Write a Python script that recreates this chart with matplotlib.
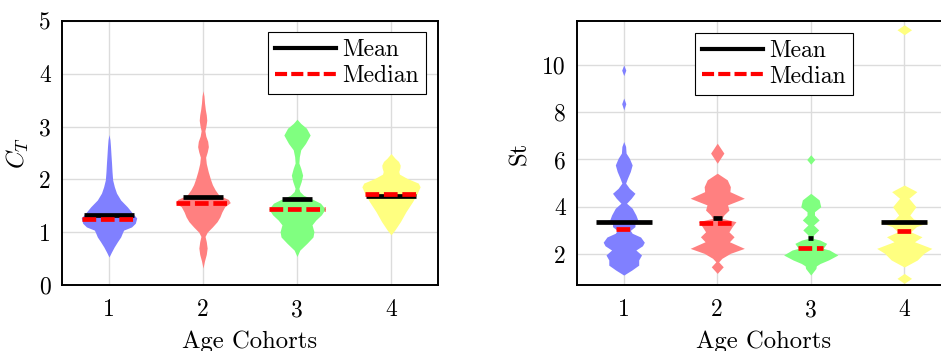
import numpy as np
import matplotlib
matplotlib.use("Agg")
import matplotlib.pyplot as plt
from matplotlib.lines import Line2D

plt.rcParams["font.family"] = "serif"
plt.rcParams["font.serif"] = ["cmr10"]
plt.rcParams["mathtext.fontset"] = "cm"
plt.rcParams["axes.unicode_minus"] = False
plt.rcParams["font.size"] = 17

COHORTS = [1, 2, 3, 4]
COLORS = ["#8080ff", "#ff8080", "#80ff80", "#ffff80"]

# ---- C_T violins: level and half width
CT1_Y = [0.53, 0.62, 0.72, 0.82, 0.91, 1.00, 1.04, 1.10, 1.17, 1.27, 1.36, 1.48, 1.61, 1.74, 1.86, 1.99, 2.15, 2.31, 2.47, 2.62, 2.75, 2.85]
CT1_W = [0.0, 0.025, 0.055, 0.09, 0.124, 0.145, 0.156, 0.24, 0.28, 0.295, 0.25, 0.195, 0.124, 0.08, 0.057, 0.039, 0.032, 0.027, 0.021, 0.016, 0.01, 0.0]
CT2_Y = [0.32, 0.45, 0.58, 0.70, 0.82, 0.92, 1.00, 1.10, 1.20, 1.29, 1.38, 1.48, 1.56, 1.62, 1.70, 1.80, 1.90, 2.00, 2.15, 2.30, 2.42, 2.52, 2.62, 2.72, 2.82, 2.92, 3.02, 3.12, 3.22, 3.32, 3.45, 3.58, 3.68]
CT2_W = [0.0, 0.015, 0.035, 0.044, 0.035, 0.022, 0.045, 0.10, 0.15, 0.18, 0.20, 0.23, 0.29, 0.27, 0.17, 0.13, 0.10, 0.08, 0.055, 0.035, 0.028, 0.045, 0.057, 0.05, 0.03, 0.02, 0.032, 0.04, 0.035, 0.025, 0.016, 0.01, 0.0]
CT3_Y = [0.54, 0.66, 0.79, 0.91, 1.01, 1.14, 1.23, 1.33, 1.44, 1.55, 1.62, 1.66, 1.70, 1.77, 1.83, 1.96, 2.08, 2.21, 2.31, 2.43, 2.56, 2.68, 2.84, 2.97, 3.06, 3.14]
CT3_W = [0.0, 0.03, 0.106, 0.17, 0.18, 0.16, 0.20, 0.26, 0.30, 0.25, 0.17, 0.12, 0.07, 0.03, 0.02, 0.045, 0.06, 0.04, 0.02, 0.025, 0.04, 0.09, 0.14, 0.10, 0.04, 0.0]
CT4_Y = [0.95, 1.04, 1.20, 1.39, 1.58, 1.74, 1.86, 1.93, 2.02, 2.10, 2.15, 2.22, 2.27, 2.34, 2.40, 2.49]
CT4_W = [0.0, 0.04, 0.10, 0.16, 0.23, 0.28, 0.31, 0.29, 0.17, 0.09, 0.083, 0.095, 0.098, 0.08, 0.043, 0.0]
CT_MEAN = [1.33, 1.67, 1.63, 1.69]
CT_MEDIAN = [1.25, 1.55, 1.44, 1.72]

# ---- St violins
ST1_Y = [1.11, 1.32, 1.53, 1.75, 1.96, 2.17, 2.35, 2.50, 2.72, 2.88, 3.00, 3.16, 3.28, 3.36, 3.44, 3.65, 3.94, 4.15, 4.36, 4.57, 4.78, 5.00, 5.21, 5.49, 5.77, 6.05, 6.27, 6.55, 6.76, 8.10, 8.36, 8.60, 9.55, 9.78, 10.0]
ST1_W = [0.0, 0.085, 0.16, 0.16, 0.19, 0.13, 0.20, 0.22, 0.18, 0.09, 0.07, 0.12, 0.12, 0.30, 0.15, 0.13, 0.09, 0.03, 0.08, 0.12, 0.06, 0.02, 0.04, 0.07, 0.09, 0.06, 0.025, 0.02, 0.0, 0.0, 0.022, 0.0, 0.0, 0.022, 0.0]
ST2_Y = [1.18, 1.46, 1.67, 1.82, 2.03, 2.24, 2.52, 2.73, 2.94, 3.16, 3.37, 3.51, 3.65, 3.86, 4.08, 4.36, 4.64, 4.85, 5.14, 5.42, 5.84, 6.27, 6.69]
ST2_W = [0.0, 0.064, 0.015, 0.05, 0.14, 0.29, 0.13, 0.18, 0.125, 0.16, 0.20, 0.05, 0.07, 0.125, 0.11, 0.29, 0.135, 0.14, 0.107, 0.0, 0.0, 0.071, 0.0]
ST3_Y = [1.11, 1.39, 1.50, 1.60, 1.75, 1.96, 2.17, 2.24, 2.45, 2.59, 2.66, 2.81, 3.02, 3.23, 3.44, 3.65, 3.79, 4.00, 4.29, 4.57, 5.80, 6.00, 6.20]
ST3_W = [0.0, 0.055, 0.06, 0.10, 0.19, 0.29, 0.20, 0.133, 0.17, 0.10, 0.028, 0.03, 0.085, 0.03, 0.09, 0.04, 0.04, 0.107, 0.09, 0.0, 0.0, 0.043, 0.0]
ST4_Y = [0.76, 0.97, 1.18, 1.45, 1.75, 2.03, 2.24, 2.52, 2.73, 2.94, 3.16, 3.34, 3.48, 3.65, 4.00, 4.36, 4.64, 4.92, 11.28, 11.49, 11.70]
ST4_W = [0.0, 0.078, 0.0, 0.0, 0.14, 0.21, 0.295, 0.11, 0.19, 0.07, 0.13, 0.26, 0.10, 0.06, 0.125, 0.05, 0.135, 0.0, 0.0, 0.078, 0.0]
ST_MEAN = [3.36, 3.51, 2.66, 3.35]
ST_MEDIAN = [3.05, 3.33, 2.24, 2.96]

CT_PROFILES = [(CT1_Y, CT1_W), (CT2_Y, CT2_W), (CT3_Y, CT3_W), (CT4_Y, CT4_W)]
ST_PROFILES = [(ST1_Y, ST1_W), (ST2_Y, ST2_W), (ST3_Y, ST3_W), (ST4_Y, ST4_W)]

DASH = (0, (2.9, 1.0))


def draw_panel(ax, profiles, means, medians):
    for x, (ys, ws), col, mu, med in zip(COHORTS, profiles, COLORS, means, medians):
        ys = np.array(ys)
        ws = np.array(ws)
        ax.fill_betweenx(ys, x - ws, x + ws, color=col, lw=0, zorder=2)
        hw = np.interp(mu, ys, ws)
        ax.plot([x - hw, x + hw], [mu, mu], color="black", lw=3.4,
                solid_capstyle="butt", zorder=3)
        hw = np.interp(med, ys, ws)
        ax.plot([x - hw, x + hw], [med, med], color="red", lw=3.4,
                ls=DASH, dash_capstyle="butt", zorder=4)
    ax.set_xlim(0.5, 4.5)
    ax.set_xticks(COHORTS)
    ax.set_xticklabels([str(c) for c in COHORTS])
    ax.set_xlabel("Age Cohorts", labelpad=7, fontsize=17.8)
    ax.grid(True, color="#dcdcdc", lw=1.0)
    ax.set_axisbelow(True)
    ax.tick_params(axis="x", length=0, pad=10)
    ax.tick_params(axis="y", length=0, pad=8)
    for s in ax.spines.values():
        s.set_linewidth(1.4)
        s.set_zorder(5)
    handles = [Line2D([], [], color="black", lw=3),
               Line2D([], [], color="red", lw=3, ls=DASH)]
    return handles


fig = plt.figure(figsize=(9.41, 3.51), dpi=100)
ax1 = fig.add_axes([62 / 941, 66 / 351, 376 / 941, 264 / 351])
ax2 = fig.add_axes([577 / 941, 66 / 351, 374 / 941, 264 / 351])

h = draw_panel(ax1, CT_PROFILES, CT_MEAN, CT_MEDIAN)
ax1.set_ylim(0, 5)
ax1.set_yticks([0, 1, 2, 3, 4, 5])
ax1.set_ylabel(r"$C_T$", labelpad=6, fontsize=17.8)
leg = ax1.legend(h, ["Mean", "Median"], loc="upper right", bbox_to_anchor=(0.968, 0.958),
                 fancybox=False, edgecolor="black", framealpha=1, borderpad=0.3,
                 handlelength=2.6, handletextpad=0.25, labelspacing=0.15, borderaxespad=0)
leg.get_frame().set_linewidth(0.8)

h = draw_panel(ax2, ST_PROFILES, ST_MEAN, ST_MEDIAN)
ax2.set_ylim(0.69, 11.86)
ax2.set_yticks([2, 4, 6, 8, 10])
ax2.set_ylabel("St", labelpad=8, fontsize=17.8)
leg = ax2.legend(h, ["Mean", "Median"], loc="upper left", bbox_to_anchor=(0.3155, 0.955),
                 fancybox=False, edgecolor="black", framealpha=1, borderpad=0.3,
                 handlelength=2.6, handletextpad=0.25, labelspacing=0.15, borderaxespad=0)
leg.get_frame().set_linewidth(0.8)

fig.savefig("out.png", dpi=100)
